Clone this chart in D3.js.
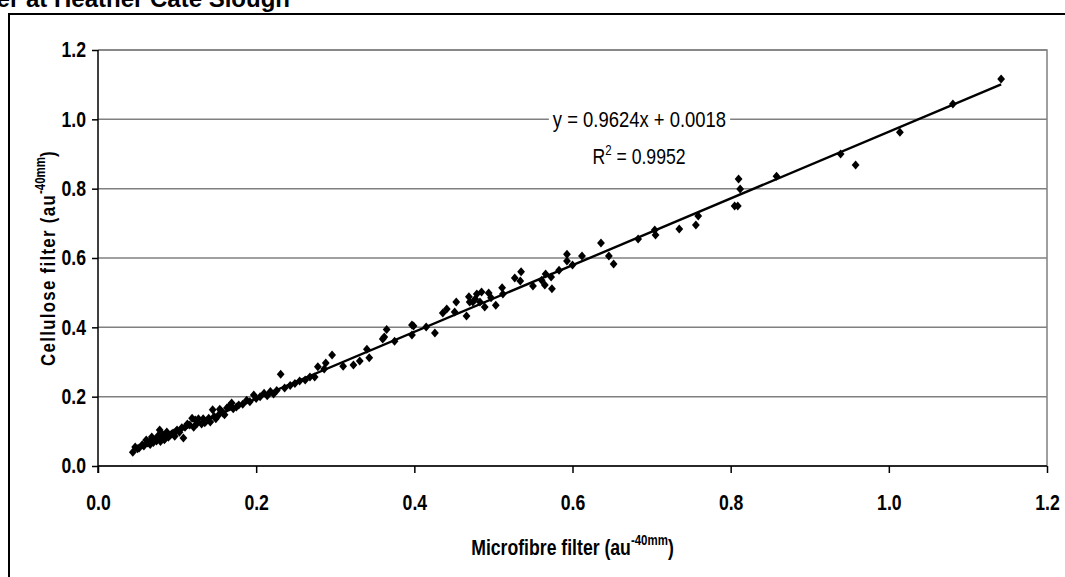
<!DOCTYPE html>
<html><head><meta charset="utf-8">
<script src="https://cdn.jsdelivr.net/npm/d3@7"></script>
<style>body{margin:0;background:#fff;} svg{display:block;}</style>
</head><body>
<svg id="c" width="1065" height="577"></svg>
<script>
// ---- data ----
const microfibre = [
0.044,0.047,0.052,0.056,0.061,0.063,0.068,0.072,0.076,0.078,0.085,0.087,0.091,0.095,0.100,0.106,0.108,0.113,0.119,0.123,0.127,0.131,0.133,0.145,0.149,0.154,0.158,0.163,0.166,0.169,0.178,
0.050,0.058,0.065,0.070,0.074,0.080,0.082,0.089,0.093,0.097,0.103,0.110,0.116,0.121,0.125,0.137,0.140,0.142,0.147,0.152,0.156,0.160,0.171,0.175,0.066,0.079,0.084,0.098,0.135,
0.183,0.188,0.192,0.197,0.200,0.205,0.210,0.214,0.218,0.222,0.226,0.231,0.236,0.243,0.249,0.255,0.262,0.268,0.274,0.278,0.286,0.288,0.296,0.310,0.323,0.331,0.340,0.343,
0.360,0.362,0.365,0.375,0.397,0.397,0.399,0.415,0.426,0.436,0.441,0.451,0.453,
0.466,0.469,0.470,0.474,0.477,0.479,0.483,0.485,0.489,0.494,0.497,0.503,0.511,0.512,0.527,0.534,0.535,0.550,0.561,0.565,0.566,0.573,0.574,0.583,0.593,0.593,0.600,0.612,0.636,0.646,0.652,0.683,
0.704,0.705,0.735,0.756,0.759,0.805,0.809,0.810,0.812,0.858,0.939,0.958,1.014,1.081,1.142
];
const cellulose = [
0.040,0.055,0.052,0.061,0.075,0.066,0.084,0.075,0.087,0.104,0.081,0.098,0.089,0.095,0.104,0.110,0.081,0.121,0.138,0.133,0.136,0.121,0.136,0.162,0.136,0.164,0.153,0.167,0.173,0.182,0.176,
0.050,0.058,0.070,0.068,0.072,0.078,0.090,0.083,0.092,0.086,0.097,0.112,0.118,0.112,0.122,0.130,0.138,0.127,0.143,0.146,0.158,0.148,0.165,0.170,0.062,0.071,0.076,0.099,0.125,
0.178,0.190,0.185,0.205,0.195,0.200,0.210,0.203,0.215,0.208,0.218,0.265,0.225,0.232,0.238,0.245,0.248,0.257,0.257,0.286,0.280,0.297,0.320,0.288,0.291,0.303,0.337,0.312,
0.366,0.372,0.394,0.360,0.378,0.407,0.404,0.401,0.384,0.441,0.453,0.444,0.473,
0.433,0.488,0.473,0.473,0.482,0.496,0.473,0.502,0.459,0.499,0.485,0.464,0.514,0.496,0.542,0.534,0.560,0.519,0.536,0.522,0.554,0.545,0.511,0.565,0.591,0.611,0.580,0.606,0.643,0.606,0.583,0.655,
0.681,0.666,0.684,0.695,0.721,0.750,0.750,0.828,0.799,0.836,0.900,0.868,0.963,1.044,1.116
];
const xTicks = [0.0,0.2,0.4,0.6,0.8,1.0,1.2];
const yTicks = [0.0,0.2,0.4,0.6,0.8,1.0,1.2];
const slope = 0.9624, intercept = 0.0018;
const eqText = "y = 0.9624x + 0.0018";
const r2Value = "0.9952";
const titleText = "Cellulose filter vs microfibre filter at Heather Cate Slough";
const xTitle = ["Microfibre filter (au", "-40mm", ")"];
const yTitle = ["Cellulose filter (au", "-40mm", ")"];

// ---- layout ----
const W = 1065, H = 577;
const L = 98, R = 1047, T = 50, B = 466;
const FONT = "'Liberation Sans',Arial,Helvetica,sans-serif";
const SX = 0.82; // horizontal condensing of chart text
const svg = d3.select("#c");

const x = d3.scaleLinear().domain([0,1.2]).range([L,R]);
const y = d3.scaleLinear().domain([0,1.2]).range([B,T]);

function squeezeAt(sel, cx, cy){
  sel.attr("x",0).attr("y",0)
     .attr("transform",`translate(${cx},${cy}) scale(${SX},1)`);
  return sel;
}

// title (clipped at top like the reference)
svg.append("text").attr("x",290).attr("y",7).attr("text-anchor","end")
  .attr("font-family",FONT).attr("font-weight","bold").attr("font-size",24)
  .text(titleText);

// outer chart frame
svg.append("rect").attr("x",9).attr("y",14).attr("width",W+20).attr("height",H+20)
  .attr("fill","none").attr("stroke","#000").attr("stroke-width",2);

// gridlines
svg.append("g").selectAll("line").data(yTicks).join("line")
  .attr("x1",L).attr("x2",R).attr("y1",d=>y(d)).attr("y2",d=>y(d))
  .attr("stroke","#808080").attr("stroke-width",1.5);
svg.append("path").attr("d",`M${L},${T}H${R}V${B}`).attr("fill","none")
  .attr("stroke","#808080").attr("stroke-width",1.5);

// axes
const fmt = d3.format(".1f");
const gx = svg.append("g").attr("transform",`translate(0,${B})`)
  .call(d3.axisBottom(x).tickValues(xTicks).tickFormat(fmt).tickSize(7).tickPadding(22));
const gy = svg.append("g").attr("transform",`translate(${L},0)`)
  .call(d3.axisLeft(y).tickValues(yTicks).tickFormat(fmt).tickSize(6).tickPadding(6));
[gx,gy].forEach(g=>{
  g.select(".domain").attr("stroke","#000").attr("stroke-width",1.5);
  g.selectAll(".tick line").attr("stroke","#000").attr("stroke-width",1.5);
  g.selectAll(".tick text").attr("font-family",FONT).attr("font-weight","bold")
    .attr("font-size",21.5).attr("fill","#000");
});
gx.selectAll(".tick text").attr("transform",`scale(${SX},1)`);
gy.selectAll(".tick text").attr("x",-12/SX).attr("transform",`scale(${SX},1)`);
gx.select(".domain").attr("d",`M${L},0H${R}`);
gy.select(".domain").attr("d",`M0,${T}V${B+7}`);

// trendline
const xmin = d3.min(microfibre), xmax = d3.max(microfibre);
svg.append("line")
  .attr("x1",x(xmin)).attr("y1",y(slope*xmin+intercept))
  .attr("x2",x(xmax)).attr("y2",y(slope*xmax+intercept))
  .attr("stroke","#000").attr("stroke-width",2.4);

// points
const pts = microfibre.map((v,i)=>[v,cellulose[i]]);
svg.append("g").selectAll("path").data(pts).join("path")
  .attr("d",d=>{const cx=x(d[0]), cy=y(d[1]);
    return `M${cx},${cy-4.5}L${cx+3.9},${cy}L${cx},${cy+4.5}L${cx-3.9},${cy}Z`;})
  .attr("fill","#000");

// equation
const eqG = svg.append("g");
const eqRect = eqG.append("rect").attr("fill","#fff");
const eq = squeezeAt(eqG.append("text"), 639.5, 127).attr("text-anchor","middle")
  .attr("font-family",FONT).attr("font-size",22.5).attr("fill","#000").text(eqText);
const bb = eq.node().getBBox();
eqRect.attr("x",639.5 + bb.x*SX - 4).attr("y",127 + bb.y).attr("width",bb.width*SX+8).attr("height",bb.height);
const r2t = squeezeAt(svg.append("text"), 639, 164).attr("text-anchor","middle")
  .attr("font-family",FONT).attr("font-size",21.5).attr("fill","#000");
r2t.append("tspan").text("R");
r2t.append("tspan").attr("dy",-9).attr("font-size",14).text("2");
r2t.append("tspan").attr("dy",9).text(" = " + r2Value);

// x title
const xt = squeezeAt(svg.append("text"), (L+R)/2, 555).attr("text-anchor","middle")
  .attr("font-family",FONT).attr("font-weight","bold").attr("font-size",21.5).attr("fill","#000");
xt.append("tspan").text(xTitle[0]);
xt.append("tspan").attr("dy",-10).attr("font-size",14).text(xTitle[1]);
xt.append("tspan").attr("dy",10).text(xTitle[2]);

// y title
const yt = svg.append("text").attr("x",0).attr("y",0)
  .attr("transform",`translate(55,${(T+B)/2}) rotate(-90) scale(${SX},1)`)
  .attr("text-anchor","middle").attr("font-family",FONT).attr("font-weight","bold")
  .attr("font-size",20.5).attr("letter-spacing",1.6).attr("fill","#000");
yt.append("tspan").text(yTitle[0]);
yt.append("tspan").attr("dy",-10).attr("font-size",14).attr("letter-spacing",0).text(yTitle[1]);
yt.append("tspan").attr("dy",10).text(yTitle[2]);
</script>
</body></html>
